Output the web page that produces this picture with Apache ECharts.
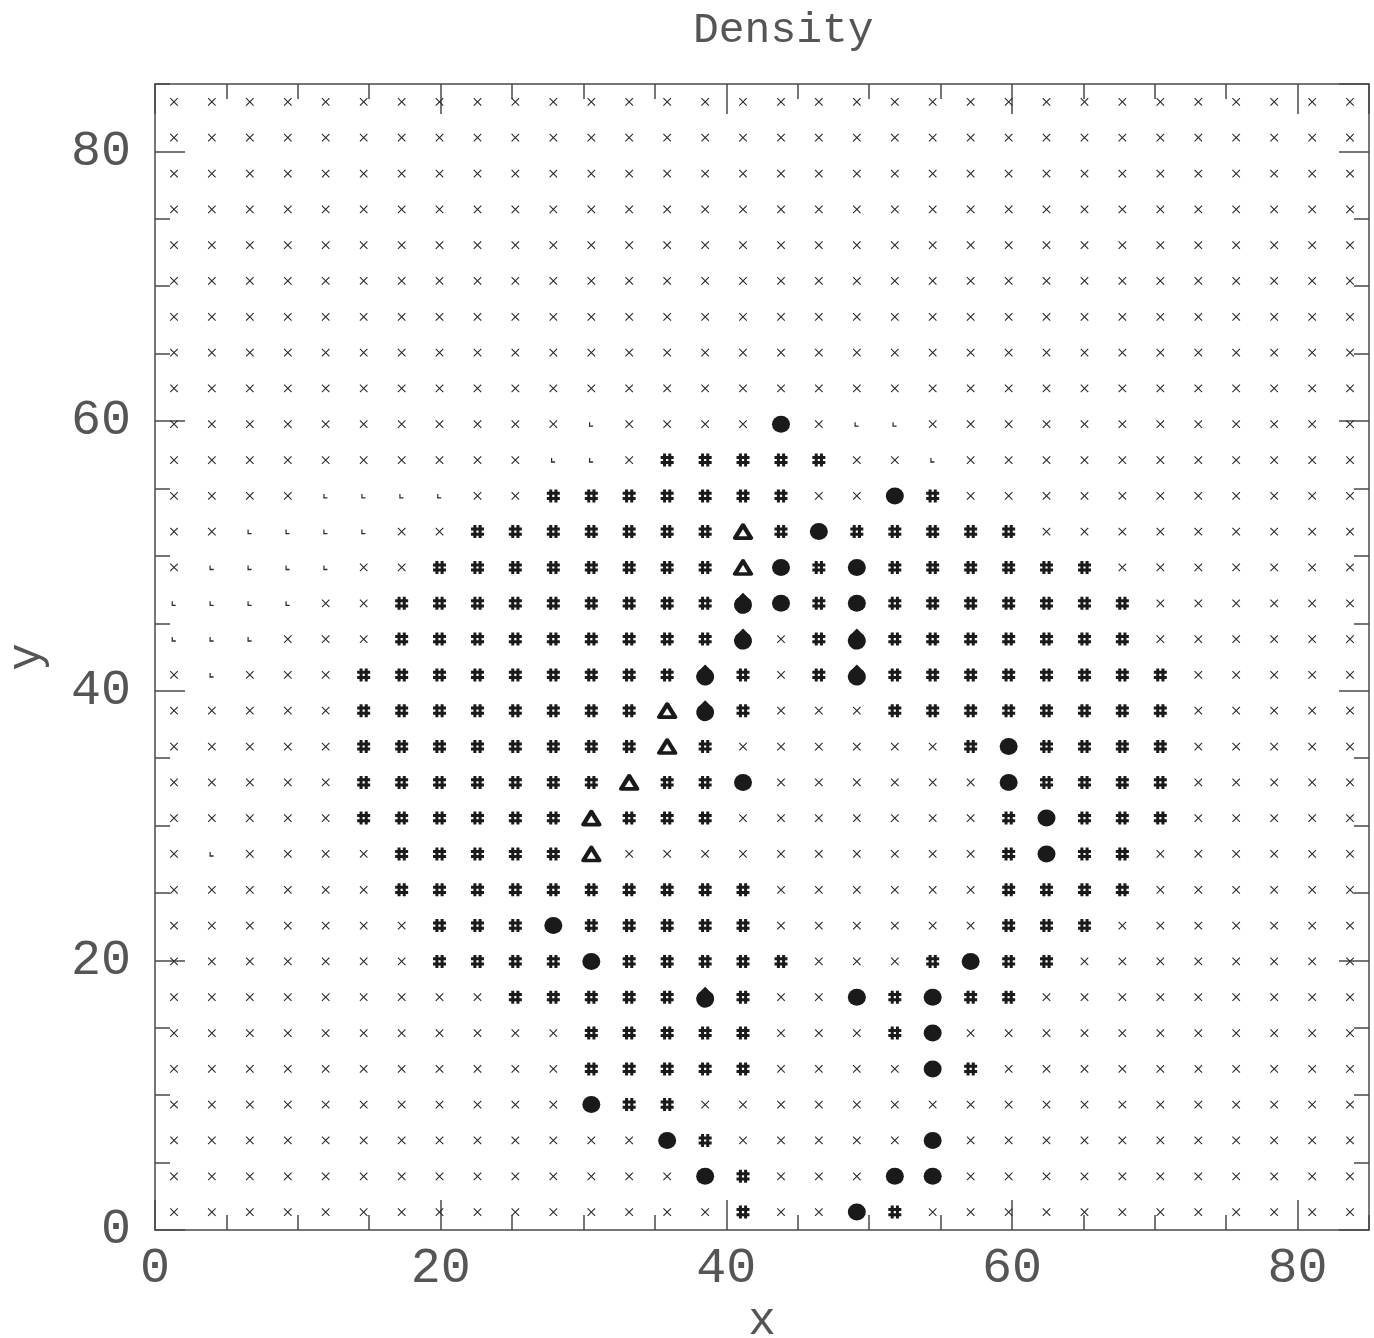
<!DOCTYPE html>
<html><head><meta charset="utf-8">
<script src="https://cdn.jsdelivr.net/npm/echarts@6/dist/echarts.min.js"></script>
<style>html,body{margin:0;padding:0;background:#fff}#c{width:1374px;height:1338px}</style>
</head><body><div id="c"></div>
<script>
// Cell centres of the 32 x 32 grid (same values on both axes), range 0..85
const cellCenters = [1.33, 3.98, 6.64, 9.30, 11.95, 14.61, 17.27, 19.92, 22.58, 25.23,
  27.89, 30.55, 33.20, 35.86, 38.52, 41.17, 43.83, 46.48, 49.14, 51.80, 54.45, 57.11,
  59.77, 62.42, 65.08, 67.73, 70.39, 73.05, 75.70, 78.36, 81.02, 83.67];

// Density class per cell, rows from top (y index 31) to bottom (y index 0)
// x = cross, l = tiny corner, h = hash, o = filled circle, t = open triangle, d = circle+triangle
const densityRows = [
  "xxxxxxxxxxxxxxxxxxxxxxxxxxxxxxxx",
  "xxxxxxxxxxxxxxxxxxxxxxxxxxxxxxxx",
  "xxxxxxxxxxxxxxxxxxxxxxxxxxxxxxxx",
  "xxxxxxxxxxxxxxxxxxxxxxxxxxxxxxxx",
  "xxxxxxxxxxxxxxxxxxxxxxxxxxxxxxxx",
  "xxxxxxxxxxxxxxxxxxxxxxxxxxxxxxxx",
  "xxxxxxxxxxxxxxxxxxxxxxxxxxxxxxxx",
  "xxxxxxxxxxxxxxxxxxxxxxxxxxxxxxxx",
  "xxxxxxxxxxxxxxxxxxxxxxxxxxxxxxxx",
  "xxxxxxxxxxxlxxxxoxllxxxxxxxxxxxx",
  "xxxxxxxxxxllxhhhhhxxlxxxxxxxxxxx",
  "xxxxllllxxhhhhhhhxxohxxxxxxxxxxx",
  "xxllllxxhhhhhhhthohhhhhxxxxxxxxx",
  "xllllxxhhhhhhhhtohohhhhhhxxxxxxx",
  "llllxxhhhhhhhhhdohohhhhhhhxxxxxx",
  "lllxxxhhhhhhhhhdxhdhhhhhhhxxxxxx",
  "xlxxxhhhhhhhhhdhxhdhhhhhhhhxxxxx",
  "xxxxxhhhhhhhhtdhxxxhhhhhhhhxxxxx",
  "xxxxxhhhhhhhhthxxxxxxhohhhhxxxxx",
  "xxxxxhhhhhhhthhoxxxxxxohhhhxxxxx",
  "xxxxxhhhhhhthhhxxxxxxxhohhhxxxxx",
  "xlxxxxhhhhhtxxxxxxxxxxhohhxxxxxx",
  "xxxxxxhhhhhhhhhhxxxxxxhhhhxxxxxx",
  "xxxxxxxhhhohhhhhxxxxxxhhhxxxxxxx",
  "xxxxxxxhhhhohhhhhxxxhohhxxxxxxxx",
  "xxxxxxxxxhhhhhdhxxohohhxxxxxxxxx",
  "xxxxxxxxxxxhhhhhxxxhoxxxxxxxxxxx",
  "xxxxxxxxxxxhhhhhxxxxohxxxxxxxxxx",
  "xxxxxxxxxxxohhxxxxxxxxxxxxxxxxxx",
  "xxxxxxxxxxxxxohxxxxxoxxxxxxxxxxx",
  "xxxxxxxxxxxxxxohxxxooxxxxxxxxxxx",
  "xxxxxxxxxxxxxxxhxxohxxxxxxxxxxxx"
];

const axisMin = 0, axisMax = 85, majorStep = 20, minorStep = 5;
const titleText = "Density", xName = "x", yName = "y";

const ink = '#1a1a1a';
const symbolStyles = {
  x: {symbol: 'path://M0,0L10,10M10,0L0,10', size: 7.5, item: {color: 'transparent', borderColor: '#2a2a2a', borderWidth: 1.1, opacity: 1}},
  l: {symbol: 'path://M0,0L0,10L10,10', size: [3.5, 4], item: {color: 'transparent', borderColor: '#2a2a2a', borderWidth: 1.3, opacity: 1}},
  h: {symbol: 'path://M3,0L3,10M7,0L7,10M0,3L10,3M0,7L10,7', size: 13, item: {color: 'transparent', borderColor: ink, borderWidth: 3, opacity: 1}},
  o: {symbol: 'circle', size: [18, 17], item: {color: ink, opacity: 1}},
  t: {symbol: 'path://M6,0L12,10L0,10Z', size: [16, 13], item: {color: 'transparent', borderColor: ink, borderWidth: 4, borderJoin: 'round', opacity: 1}},
  d: {symbol: 'path://M8,0L12,4.1A8,8,0,1,1,4,4.1Z', size: [18, 21], item: {color: ink, opacity: 1}}
};

const buckets = {x: [], l: [], h: [], o: [], t: [], d: []};
densityRows.forEach((row, r) => {
  const j = densityRows.length - 1 - r;
  for (let i = 0; i < row.length; i++) {
    buckets[row[i]].push([cellCenters[i], cellCenters[j]]);
  }
});

const series = Object.keys(buckets).map(k => ({
  type: 'scatter', xAxisIndex: 0, yAxisIndex: 0,
  symbol: symbolStyles[k].symbol, symbolSize: symbolStyles[k].size,
  itemStyle: symbolStyles[k].item, data: buckets[k], silent: true, animation: false
}));

const lineCol = '#4a4a4a';
const labelFont = {fontFamily: 'Liberation Mono', fontSize: 50, color: '#555'};
function axis(dim, pos, major, withLabel) {
  const a = {
    type: 'value', position: pos, min: axisMin, max: axisMax,
    interval: major ? majorStep : minorStep,
    splitLine: {show: false},
    axisLine: {show: major, onZero: false, lineStyle: {color: lineCol, width: 1.5}},
    axisTick: {show: true, inside: true, length: major ? 30 : 15, lineStyle: {color: lineCol, width: 1.5}},
    axisLabel: {show: false},
    z: 1
  };
  if (withLabel) {
    a.axisLabel = Object.assign({show: true, showMaxLabel: false, margin: dim === 'x' ? 14 : 24}, labelFont);
    a.name = dim === 'x' ? xName : yName;
    a.nameLocation = 'middle';
    a.nameGap = dim === 'x' ? 52 : 105;
    a.nameTextStyle = {fontFamily: 'Liberation Mono', fontSize: 46, color: '#555'};
  }
  return a;
}

const chart = echarts.init(document.getElementById('c'), null, {renderer: 'canvas'});
chart.setOption({
  backgroundColor: '#fff',
  animation: false,
  title: {text: titleText, left: 688, top: 4, textStyle: {fontFamily: 'Liberation Mono', fontSize: 43, fontWeight: 'normal', color: '#555'}},
  grid: {left: 155, right: 5, top: 84, bottom: 108, containLabel: false, outerBoundsMode: 'none'},
  xAxis: [axis('x', 'bottom', true, true), axis('x', 'bottom', false, false), axis('x', 'top', true, false), axis('x', 'top', false, false)],
  yAxis: [axis('y', 'left', true, true), axis('y', 'left', false, false), axis('y', 'right', true, false), axis('y', 'right', false, false)],
  series: series
});
</script></body></html>
